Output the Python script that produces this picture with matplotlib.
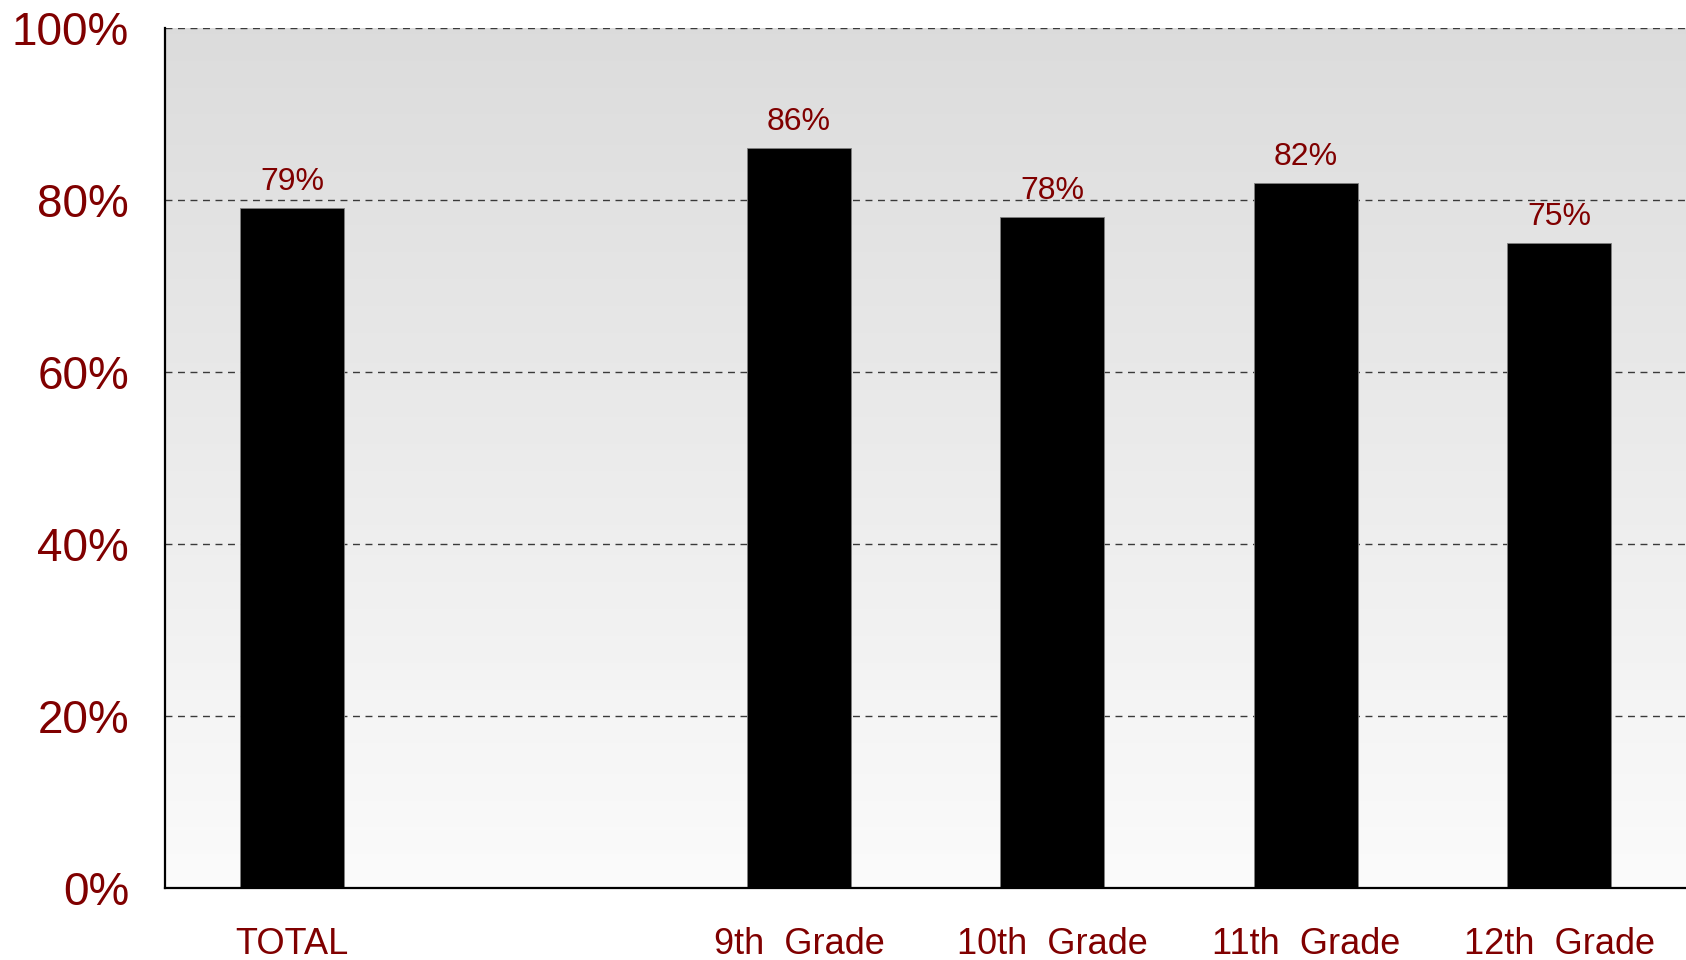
import numpy as np
import matplotlib
matplotlib.use('Agg')
import matplotlib.pyplot as plt
from matplotlib.ticker import PercentFormatter

# datos
categorias = ['TOTAL', '9th  Grade', '10th  Grade', '11th  Grade', '12th  Grade']
valores = [79, 86, 78, 82, 75]
etiquetas = ['79%', '86%', '78%', '82%', '75%']

rojo = '#800000'

fig = plt.figure(figsize=(16.86, 9.6), dpi=100)
ax = fig.add_axes([0.098, 0.075, 0.902, 0.896])

# TOTAL separado de los grados por un hueco
x = [0] + [i + 2 for i in range(len(categorias) - 1)]

ax.set_xlim(-0.5, 5.5)
ax.set_ylim(0, 100)

# fondo degradado gris claro (arriba) -> casi blanco (abajo)
g = np.linspace(0.985, 0.862, 256)
fondo = np.dstack([g, g, g]).reshape(-1, 1, 3)
ax.imshow(fondo, extent=[-0.5, 5.5, 0, 100], aspect='auto', origin='lower', zorder=0)

ax.set_yticks([0, 20, 40, 60, 80, 100])
ax.yaxis.set_major_formatter(PercentFormatter(decimals=0))
for y in [20, 40, 60, 80, 100]:
    ax.axhline(y, color='#3a3a3a', lw=1, ls=(0, (5, 4)), zorder=1)

ax.bar(x, valores, width=0.41, color='black', edgecolor='#808080', lw=0.6, zorder=2)

for xi, v, t in zip(x, valores, etiquetas):
    ax.annotate(t, (xi, v), xytext=(0, 8), textcoords='offset points',
                ha='center', va='bottom', color=rojo, fontsize=23,
                family='Liberation Sans')

ax.set_xticks(x)
ax.set_xticklabels(categorias, family='Liberation Sans', fontsize=26, color=rojo)
ax.tick_params(axis='x', length=0, pad=28)
ax.tick_params(axis='y', length=0, pad=26, labelsize=33, labelcolor=rojo)
for lab in ax.get_yticklabels():
    lab.set_family('Liberation Sans')

for s in ['top', 'right']:
    ax.spines[s].set_visible(False)
for s in ['left', 'bottom']:
    ax.spines[s].set_linewidth(1.6)
    ax.spines[s].set_zorder(3)

fig.savefig('out.png', dpi=100)
